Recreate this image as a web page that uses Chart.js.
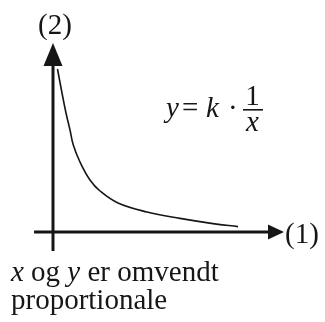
<!DOCTYPE html>
<html>
<head>
<meta charset="utf-8">
<script src="https://cdn.jsdelivr.net/npm/chart.js@4/dist/chart.umd.min.js"></script>
<style>
html,body{margin:0;padding:0;background:#fff;}
canvas{display:block;}
</style>
</head>
<body>
<canvas id="c" width="325" height="322"></canvas>
<script>
// Curve y = k * 1/x (units: axis origin = 0)
const curveX = [0.225, 0.45, 0.65, 0.85, 1.015, 1.35, 1.85, 2.35, 3.25, 4.7, 6.35, 8.0, 9.25];
const curveY = [8.15, 6.95, 5.95, 5.1, 4.35, 3.5, 2.6, 2.05, 1.45, 1.0, 0.68, 0.42, 0.27];
// Axis extents (data units)
const xAxisExtent = [-0.95, 11.55];
const yAxisExtent = [-0.95, 9.45];
// Labels
const xAxisLabel = "(1)";
const yAxisLabel = "(2)";
const captionLine1 = [["x", true], [" og ", false], ["y", true], [" er omvendt", false]];
const captionLine2 = "proportionale";

const INK = "#161616";
const FONT = "'Liberation Serif', 'Times New Roman', serif";
const SIZE = "29px ";

const axesPlugin = {
  id: "axesPlugin",
  afterDatasetsDraw(chart) {
    const ctx = chart.ctx;
    const xs = chart.scales.x, ys = chart.scales.y;
    const ox = xs.getPixelForValue(0), oy = ys.getPixelForValue(0);
    const xTip = xs.getPixelForValue(xAxisExtent[1]);
    const xStart = xs.getPixelForValue(xAxisExtent[0]);
    const yTip = ys.getPixelForValue(yAxisExtent[1]);
    const yStart = ys.getPixelForValue(yAxisExtent[0]);
    ctx.save();
    ctx.strokeStyle = INK;
    ctx.fillStyle = INK;
    ctx.lineWidth = 3;
    // x axis
    ctx.beginPath();
    ctx.moveTo(xStart, oy);
    ctx.lineTo(xTip - 12, oy);
    ctx.stroke();
    ctx.beginPath();
    ctx.moveTo(xTip, oy);
    ctx.lineTo(xTip - 16, oy - 7.5);
    ctx.lineTo(xTip - 16, oy + 7.5);
    ctx.closePath();
    ctx.fill();
    // y axis
    ctx.beginPath();
    ctx.moveTo(ox, yStart);
    ctx.lineTo(ox, yTip + 14);
    ctx.stroke();
    ctx.beginPath();
    ctx.moveTo(ox, yTip);
    ctx.lineTo(ox - 9.5, yTip + 23);
    ctx.lineTo(ox + 9.5, yTip + 23);
    ctx.closePath();
    ctx.fill();

    // axis labels
    ctx.font = SIZE + FONT;
    ctx.textBaseline = "alphabetic";
    ctx.textAlign = "left";
    ctx.fillText(xAxisLabel, xTip + 1, oy + 11);
    ctx.textAlign = "center";
    ctx.fillText(yAxisLabel, ox + 2, yTip - 9);

    // formula y = k · 1/x
    ctx.textAlign = "left";
    ctx.font = "italic " + SIZE + FONT;
    ctx.fillText("y", 166, 117);
    ctx.font = SIZE + FONT;
    ctx.fillText("=", 182, 117);
    ctx.font = "italic " + SIZE + FONT;
    ctx.fillText("k", 206, 117);
    ctx.font = SIZE + FONT;
    ctx.fillText("·", 228, 117);
    ctx.textAlign = "center";
    ctx.fillText("1", 252.5, 105);
    ctx.fillRect(243, 109, 20, 1.6);
    ctx.font = "italic " + SIZE + FONT;
    ctx.fillText("x", 252.5, 131);

    // caption
    ctx.textAlign = "left";
    let cx = 11;
    for (const [t, it] of captionLine1) {
      ctx.font = (it ? "italic " : "") + SIZE + FONT;
      ctx.fillText(t, cx, 281);
      cx += ctx.measureText(t).width;
    }
    ctx.font = SIZE + FONT;
    ctx.fillText(captionLine2, 11, 309);
    ctx.restore();
  }
};

new Chart(document.getElementById("c"), {
  type: "scatter",
  data: {
    datasets: [{
      data: curveX.map((x, i) => ({ x: x, y: curveY[i] })),
      showLine: true,
      borderColor: INK,
      borderWidth: 1.6,
      pointRadius: 0,
      tension: 0.4,
      fill: false
    }]
  },
  options: {
    responsive: false,
    animation: false,
    devicePixelRatio: 1,
    layout: { padding: { left: 33, right: 41, top: 43, bottom: 71 } },
    plugins: { legend: { display: false }, tooltip: { enabled: false } },
    scales: {
      x: { type: "linear", display: false, min: -1, max: 11.55 },
      y: { type: "linear", display: false, min: -0.95, max: 9.45 }
    }
  },
  plugins: [axesPlugin]
});
</script>
</body>
</html>
